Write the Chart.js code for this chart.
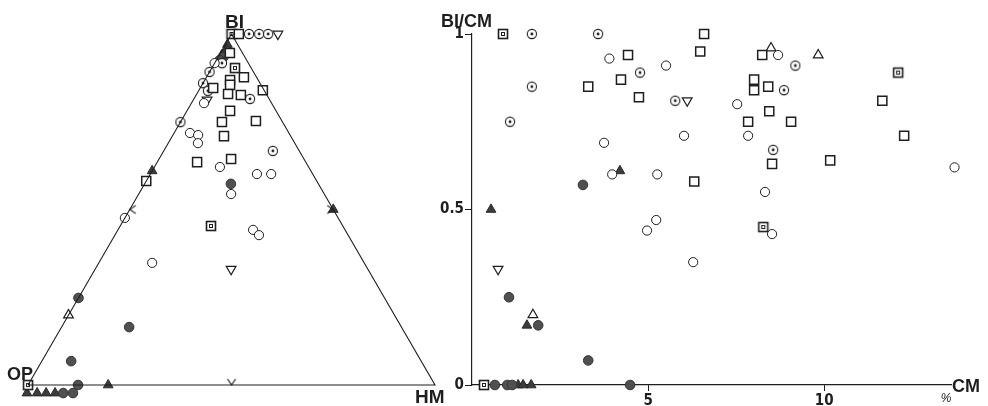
<!DOCTYPE html>
<html>
<head>
<meta charset="utf-8">
<script src="https://cdn.jsdelivr.net/npm/chart.js@4.4.1/dist/chart.umd.min.js"></script>
<style>
  html, body { margin: 0; padding: 0; background: #fff; }
  #wrap { position: relative; width: 988px; height: 406px; overflow: hidden; }
  #tri { position: absolute; left: 0; top: 0; }
  #xy { position: absolute; left: 440px; top: 0; }
</style>
</head>
<body>
<div id="wrap">
  <canvas id="tri" width="460" height="406"></canvas>
  <canvas id="xy" width="548" height="406"></canvas>
</div>
<script>
// Ternary diagram: each point is [BI %, HM %], OP = 100 - BI - HM
// (points drawn just outside a corner are the stacked ones at that corner)
const triCorners = [[0, 0], [0, 100], [100, 0], [0, 0]];
const triMidTicks = [[0, 50], [50, 0], [50, 50]];
const triMidRot = [0, 90, -90];

const triCircle = [[91.7, 0], [80.3, 3.1], [71.8, 3.9], [71.2, 6.2], [68.9, 7.3], [62.1, 16.1], [60.1, 26.2],
  [60.1, 29.7], [54.4, 22.7], [47.6, 0], [44.2, 33.2], [42.7, 35.4], [34.8, 13.1]];
const triDotCircle = [[100, 4.3], [100, 6.8], [100, 9.0], [91.7, 1.8], [89.2, 0], [86.0, 0], [83.8, 2.3],
  [81.5, 13.8], [74.9, 0], [66.7, 26.8]];
const triSquare = [[100, 1.8], [94.6, 2.3], [87.7, 9.2], [86.9, 6.2], [85.5, 6.9], [84.6, 3.2], [82.9, 7.7],
  [82.6, 11.0], [84.0, 15.7], [78.1, 10.6], [74.9, 10.2], [75.2, 18.4], [70.9, 12.7], [63.5, 9.8],
  [64.4, 17.7], [58.1, 0]];
const triDblSquare = [[100, 0], [90.3, 5.7], [45.3, 22.3], [0, 0]];
const triTriangle = [[19.9, 0]];
const triTriDown = [[100, 11.4], [81.2, 3.4], [33.0, 33.4]];
const triTriFill = [[97, 0.5], [95.5, 1.0], [94, 0.6], [61.0, 0], [50, 50], [0, 19.7],
  [-2.3, 0.9], [-2.3, 3.4], [-2.3, 5.6], [-2.3, 7.8]];
const triDot = [[95, 1.6], [93.5, 1.3], [92.5, 0.8], [57.3, 21.2], [24.8, 0], [16.5, 16.6], [6.8, 7.2],
  [0, 12.3], [-2.3, 9.8], [-2.3, 12.2]];

// Scatter: [CM %, BI/CM]
const xTicks = [5, 10];
const yTicks = [0, 0.5, 1];
const xyCircle = [[3.9, 0.93], [3.75, 0.69], [3.98, 0.6], [5.26, 0.6], [5.23, 0.47], [4.97, 0.44],
  [8.69, 0.94], [5.51, 0.91], [7.53, 0.8], [6.02, 0.71], [7.84, 0.71], [13.7, 0.62], [8.32, 0.55],
  [8.52, 0.43], [6.28, 0.35]];
const xyDotCircle = [[1.7, 1], [3.58, 1], [4.77, 0.89], [1.7, 0.85], [1.08, 0.75], [9.18, 0.91],
  [8.86, 0.84], [5.77, 0.81], [8.55, 0.67]];
const xySquare = [[4.43, 0.94], [3.3, 0.85], [4.23, 0.87], [4.74, 0.82], [6.59, 1], [6.48, 0.95],
  [8.24, 0.94], [8.01, 0.87], [8.01, 0.84], [8.41, 0.85], [11.65, 0.81], [8.44, 0.78], [7.84, 0.75],
  [9.06, 0.75], [12.27, 0.71], [8.52, 0.63], [10.17, 0.64], [6.31, 0.58]];
const xyDblSquare = [[0.88, 1], [12.1, 0.89], [8.27, 0.45], [0.34, 0]];
const xyTriangle = [[8.49, 0.96], [9.83, 0.94], [1.73, 0.2]];
const xyTriDown = [[6.11, 0.81], [0.74, 0.33]];
const xyTriFill = [[4.2, 0.61], [0.54, 0.5], [1.56, 0.17], [1.31, 0], [1.45, 0], [1.68, 0]];
const xyDot = [[3.15, 0.57], [1.05, 0.25], [1.88, 0.17], [3.3, 0.07], [0.65, 0], [1.0, 0], [1.14, 0], [4.49, 0]];

const ink = '#1e1e1e';
const labelFont = "bold 19px 'Liberation Sans', Arial, sans-serif";
const tickFamily = "'Liberation Sans Narrow', 'DejaVu Sans Condensed', 'Liberation Sans', sans-serif";

// custom marker images
function makeSym(draw) {
  const c = document.createElement('canvas');
  c.width = 14; c.height = 14;
  const g = c.getContext('2d');
  g.strokeStyle = ink; g.fillStyle = ink;
  draw(g);
  return c;
}
const dotCircleImg = makeSym(g => {
  g.lineWidth = 1.1;
  g.fillStyle = '#fff';
  g.beginPath(); g.arc(7, 7, 4.6, 0, Math.PI * 2); g.fill(); g.stroke();
  g.fillStyle = ink;
  g.beginPath(); g.arc(7, 7, 1.4, 0, Math.PI * 2); g.fill();
});
const dblSquareImg = makeSym(g => {
  g.fillStyle = '#fff'; g.fillRect(2.5, 2.5, 9, 9);
  g.lineWidth = 1.6; g.strokeRect(2.5, 2.5, 9, 9);
  g.lineWidth = 1; g.strokeRect(5.5, 5.5, 3, 3);
});
const chevronImg = makeSym(g => {
  g.lineWidth = 1.2;
  g.beginPath(); g.moveTo(3, 1); g.lineTo(7, 7); g.lineTo(11, 1); g.stroke();
});

const sym = {
  circle: { pointStyle: 'circle', pointRadius: 4.6, pointBorderWidth: 1, pointBorderColor: ink, pointBackgroundColor: '#fff' },
  dotCircle: { pointStyle: dotCircleImg, pointRadius: 5 },
  square: { pointStyle: 'rect', pointRadius: 6.4, pointBorderWidth: 1.5, pointBorderColor: ink, pointBackgroundColor: '#fff' },
  dblSquare: { pointStyle: dblSquareImg, pointRadius: 5 },
  triangle: { pointStyle: 'triangle', pointRadius: 5.6, pointBorderWidth: 1.2, pointBorderColor: ink, pointBackgroundColor: '#fff' },
  triDown: { pointStyle: 'triangle', pointRotation: 180, pointRadius: 5.6, pointBorderWidth: 1.2, pointBorderColor: ink, pointBackgroundColor: '#fff' },
  triFill: { pointStyle: 'triangle', pointRadius: 5.6, pointBorderWidth: 1, pointBorderColor: '#2a2a2a', pointBackgroundColor: '#3c3c3c' },
  dot: { pointStyle: 'circle', pointRadius: 4.8, pointBorderWidth: 1, pointBorderColor: '#333', pointBackgroundColor: '#505050' }
};

function series(points, style, conv) {
  return Object.assign({ data: points.map(conv), clip: false, showLine: false }, style);
}

// ---------- ternary ----------
const toTri = ([bi, hm]) => ({ x: hm + bi / 2, y: bi * Math.sqrt(3) / 2 });

const triLabels = {
  id: 'triLabels',
  afterDraw(chart) {
    const { ctx, scales: { x, y } } = chart;
    const apex = toTri([100, 0]), op = toTri([0, 0]), hm = toTri([0, 100]);
    ctx.save();
    ctx.fillStyle = ink;
    ctx.font = labelFont;
    ctx.textAlign = 'center';
    ctx.fillText('BI', x.getPixelForValue(apex.x) + 3, y.getPixelForValue(apex.y) - 6);
    ctx.font = "bold 18px 'Liberation Sans', Arial, sans-serif";
    ctx.textAlign = 'left';
    ctx.fillText('OP', x.getPixelForValue(op.x) - 21, y.getPixelForValue(op.y) - 5);
    ctx.font = labelFont;
    ctx.fillText('HM', x.getPixelForValue(hm.x) - 20, y.getPixelForValue(hm.y) + 18);
    ctx.restore();
  }
};

new Chart(document.getElementById('tri'), {
  type: 'scatter',
  data: {
    datasets: [
      { data: triCorners.map(toTri), showLine: true, borderColor: ink, borderWidth: 1.1, pointRadius: 0, fill: false, clip: false },
      Object.assign(series(triMidTicks, { pointStyle: chevronImg, pointRadius: 5 }, toTri), { pointRotation: triMidRot }),
      series(triCircle, sym.circle, toTri),
      series(triSquare, sym.square, toTri),
      series(triDblSquare, sym.dblSquare, toTri),
      series(triDotCircle, sym.dotCircle, toTri),
      series(triTriangle, sym.triangle, toTri),
      series(triTriDown, sym.triDown, toTri),
      series(triDot, sym.dot, toTri),
      series(triTriFill, sym.triFill, toTri)
    ]
  },
  options: {
    responsive: false, animation: false, events: [],
    layout: { padding: 0, autoPadding: false },
    plugins: { legend: { display: false }, tooltip: { enabled: false } },
    scales: {
      x: { type: 'linear', display: false, min: -6.88, max: 106.14 },
      y: { type: 'linear', display: false, min: -5.18, max: 94.99 }
    }
  },
  plugins: [triLabels]
});

// ---------- BI/CM vs CM ----------
const toXY = ([cm, r]) => ({ x: cm, y: r });

const xyLabels = {
  id: 'xyLabels',
  afterDraw(chart) {
    const { ctx, chartArea } = chart;
    ctx.save();
    ctx.fillStyle = ink;
    ctx.font = "bold 18px 'Liberation Sans', Arial, sans-serif";
    ctx.textAlign = 'left';
    ctx.fillText('BI/CM', 1, 27);
    ctx.fillText('CM', chartArea.right + 1, chartArea.bottom + 7);
    ctx.font = "italic 12px 'Liberation Sans', Arial, sans-serif";
    ctx.textAlign = 'center';
    ctx.fillText('%', chartArea.right - 5, chartArea.bottom + 17);
    ctx.restore();
  }
};

const tickFont = { family: tickFamily, size: 15, weight: 'bold' };

new Chart(document.getElementById('xy'), {
  type: 'scatter',
  data: {
    datasets: [
      series(xyCircle, sym.circle, toXY),
      series(xySquare, sym.square, toXY),
      series(xyDblSquare, sym.dblSquare, toXY),
      series(xyDotCircle, sym.dotCircle, toXY),
      series(xyTriangle, sym.triangle, toXY),
      series(xyTriDown, sym.triDown, toXY),
      series(xyDot, sym.dot, toXY),
      series(xyTriFill, sym.triFill, toXY)
    ]
  },
  options: {
    responsive: false, animation: false, events: [],
    layout: { padding: { top: 34, right: 37, left: 0, bottom: 0 }, autoPadding: false },
    plugins: { legend: { display: false }, tooltip: { enabled: false } },
    scales: {
      x: {
        type: 'linear', min: 0, max: 13.6,
        afterBuildTicks: s => { s.ticks = xTicks.map(v => ({ value: v })); },
        afterFit: s => { s.height = 21; },
        grid: { drawOnChartArea: false, tickLength: 6, color: ink, tickColor: ink },
        border: { color: ink, width: 1.2 },
        ticks: { color: ink, font: tickFont, padding: 1, maxRotation: 0 }
      },
      y: {
        type: 'linear', min: 0, max: 1,
        afterBuildTicks: s => { s.ticks = yTicks.map(v => ({ value: v })); },
        afterFit: s => { s.width = 32; },
        grid: { drawOnChartArea: false, tickLength: 7, color: ink, tickColor: ink },
        border: { color: ink, width: 1.2 },
        ticks: { color: ink, font: tickFont, padding: 1, callback: v => String(v) }
      }
    }
  },
  plugins: [xyLabels]
});
</script>
</body>
</html>
